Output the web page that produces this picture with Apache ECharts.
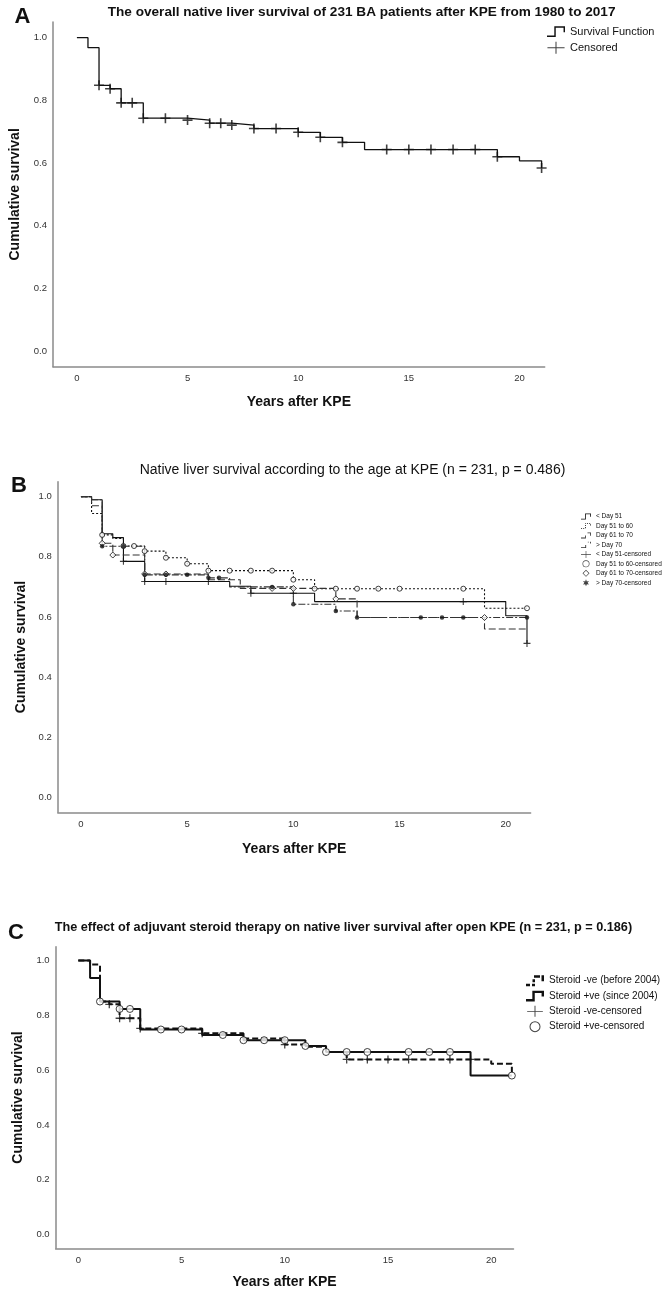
<!DOCTYPE html>
<html><head><meta charset="utf-8">
<script src="https://cdn.jsdelivr.net/npm/echarts@6/dist/echarts.min.js"></script>
<style>html,body{margin:0;padding:0;background:#fff}#c{width:671px;height:1299px}</style>
</head><body><div id="c"></div>
<script>
// ---------- shared tick labels ----------
const xTicks = [0, 5, 10, 15, 20];
const yTicks = [0, 0.2, 0.4, 0.6, 0.8, 1.0];

// ---------- Panel A ----------
const aSurvival = [[0,1],[0.5,0.968],[1,0.848],[1.5,0.837],[2,0.792],[3,0.743],[5,0.737],[6,0.727],[7,0.721],[8,0.71],[10,0.698],[11,0.682],[12,0.666],[13,0.643],[19,0.62],[20,0.607],[21,0.584]];
const aCensored = [[1,0.848],[1.5,0.837],[2,0.792],[2.5,0.792],[3,0.743],[4,0.743],[5,0.737],[6,0.727],[6.5,0.727],[7,0.721],[8,0.71],[9,0.71],[10,0.698],[11,0.682],[12,0.666],[14,0.643],[15,0.643],[16,0.643],[17,0.643],[18,0.643],[19,0.62],[21,0.584]];

// ---------- Panel B ----------
const bDay51 = [[0,1],[0.5,0.99],[1,0.877],[1.5,0.864],[2,0.785],[3,0.718],[7,0.702],[8,0.679],[11,0.651],[20,0.604],[21,0.512]];
const bDay51Cens = [[2,0.785],[3,0.718],[4,0.718],[6,0.718],[8,0.679],[10,0.679],[18,0.651],[21,0.512]];
const bDay51to60 = [[0,1],[0.5,0.944],[1,0.873],[1.5,0.861],[2,0.836],[3,0.819],[4,0.797],[5,0.777],[6,0.754],[10,0.724],[11,0.694],[19,0.629],[21,0.629]];
const bDay51to60Cens = [[1,0.873],[2,0.836],[2.5,0.836],[3,0.819],[4,0.797],[5,0.777],[6,0.754],[7,0.754],[8,0.754],[9,0.754],[10,0.724],[11,0.694],[12,0.694],[13,0.694],[14,0.694],[15,0.694],[18,0.694],[21,0.629]];
const bDay61to70 = [[0,1],[0.5,0.97],[1,0.845],[1.5,0.806],[3,0.743],[6,0.724],[7.5,0.695],[12,0.66],[13,0.598],[19,0.56],[21,0.56]];
const bDay61to70Cens = [[1,0.845],[1.5,0.806],[3,0.743],[4,0.743],[9,0.695],[10,0.695],[12,0.66],[19,0.598]];
const bOver70 = [[0,1],[0.5,0.99],[1,0.835],[3,0.74],[6,0.73],[7,0.70],[10,0.642],[12,0.62],[13,0.598],[21,0.598]];
const bOver70Cens = [[1,0.835],[2,0.835],[3,0.74],[4,0.74],[5,0.74],[6,0.73],[6.5,0.73],[9,0.70],[10,0.642],[12,0.62],[13,0.598],[16,0.598],[17,0.598],[18,0.598],[21,0.598]];

// ---------- Panel C ----------
const cNeg = [[0,1],[0.57,0.985],[1.05,0.85],[1.5,0.84],[2,0.789],[3,0.752],[6,0.734],[8,0.715],[10,0.693],[11,0.685],[12,0.666],[13,0.639],[20,0.623],[21,0.58]];
const cNegCens = [[1.5,0.84],[2,0.789],[2.5,0.789],[3,0.752],[6,0.734],[10,0.693],[13,0.639],[14,0.639],[15,0.639],[16,0.639],[18,0.639],[19,0.639]];
const cPos = [[0,1],[0.57,0.936],[1.05,0.85],[2,0.823],[3,0.748],[6,0.728],[8,0.709],[11,0.688],[12,0.666],[19,0.58],[21,0.58]];
const cPosCens = [[1.05,0.85],[2,0.823],[2.5,0.823],[4,0.748],[5,0.748],[7,0.728],[8,0.709],[9,0.709],[10,0.709],[11,0.688],[12,0.666],[13,0.666],[14,0.666],[16,0.666],[17,0.666],[18,0.666],[21,0.58]];

const FONT = '"Liberation Sans", Arial, sans-serif';
const PLUS = 'path://M0,4.2H10V5.8H0Z M4.2,0H5.8V10H4.2Z';
const PLUS_WIDE = 'path://M0,6.4H20V7.6H0Z M9.4,0H10.6V14H9.4Z';
const RING = 'path://M6,0A6,6 0 1 1 5.99,0Z M6,1.1A4.9,4.9 0 1 0 6.01,1.1Z';
const DIAMOND_RING = 'path://M5,0L10,5L5,10L0,5Z M5,1.3L1.3,5L5,8.7L8.7,5Z';
const STAR = 'path://M5,0L6.2,3L9.3,2.5L7.3,5L9.3,7.5L6.2,7L5,10L3.8,7L0.7,7.5L2.7,5L0.7,2.5L3.8,3Z';
const STEP = 'path://M0,10h9v1.5h-9z M7.5,0.5h1.5v11h-1.5z M7.5,0.5h11v1.5h-11z M17,0.5h1.5v6h-1.5z';
const STEP_DOT = 'path://M0,10h2v1.5h-2z M4,10h2v1.5h-2z M7.5,8h1.5v2h-1.5z M7.5,4h1.5v2h-1.5z M7.5,0.5h1.5v1.5h-1.5z M11,0.5h2v1.5h-2z M15,0.5h2v1.5h-2z M17,3h1.5v2h-1.5z';
const STEP_DASH = 'path://M0,10h9v1.5h-9z M7.5,6h1.5v5.5h-1.5z M12,0.5h6.5v1.5h-6.5z M17,0.5h1.5v6h-1.5z';
const STEP_DASHDOT = 'path://M0,10h9v1.5h-9z M7.5,6h1.5v5.5h-1.5z M12,0.5h1.5v1.5h-1.5z M16,0.5h1.5v3h-1.5z';
const STEP_THICKDASH = 'path://M0,9h4v2.5h-4z M6,9h3v2.5h-3z M6.5,4.5h2.5v3h-2.5z M8,0.5h6v2.5h-6z M15.5,0.5h2.5v6h-2.5z';
const STEP_THICK = 'path://M0,9h9v2.5h-9z M6.5,0.5h2.5v11h-2.5z M6.5,0.5h12v2.5h-12z M16,0.5h2.5v6h-2.5z';
const DARK = { color: '#111', borderWidth: 0 };

function xAx(i, min, max, gap) {
  return {
    gridIndex: i, type: 'value', min: min, max: max,
    axisLine: { onZero: false, lineStyle: { color: '#8a8a8a', width: 1.5 } },
    axisTick: { show: false }, splitLine: { show: false },
    axisLabel: { customValues: xTicks, fontSize: 9.5, color: '#333', margin: 7, fontFamily: FONT },
    name: 'Years after KPE', nameLocation: 'middle', nameGap: gap,
    nameTextStyle: { fontFamily: FONT, fontWeight: 'bold', fontSize: 14, color: '#111' }
  };
}
function yAx(i, gap) {
  return {
    gridIndex: i, type: 'value', min: -0.05, max: 1.05,
    axisLine: { show: true, onZero: false, lineStyle: { color: '#8a8a8a', width: 1.5 } },
    axisTick: { show: false }, splitLine: { show: false },
    axisLabel: { customValues: yTicks, formatter: v => v.toFixed(1), fontSize: 9.5, color: '#333', margin: 6, fontFamily: FONT },
    name: 'Cumulative survival', nameLocation: 'middle', nameGap: gap,
    nameTextStyle: { fontFamily: FONT, fontWeight: 'bold', fontSize: 14, color: '#111' }
  };
}
function stepLine(name, data, idx, width, type, color) {
  return { name: name, type: 'line', step: 'end', data: data, xAxisIndex: idx, yAxisIndex: idx,
    symbol: 'none', silent: true, animation: false,
    lineStyle: { color: color || '#111', width: width, type: type }, itemStyle: { color: color || '#111' } };
}
function cens(name, data, idx, symbol, size, fill, border) {
  return { name: name, type: 'scatter', data: data, xAxisIndex: idx, yAxisIndex: idx,
    symbol: symbol, symbolSize: size, silent: true, animation: false, z: 5,
    itemStyle: { color: fill, borderColor: border || fill, borderWidth: border ? 1 : 0 } };
}
function txt(text, x, y, font) {
  return { type: 'text', x: x, y: y, silent: true,
    style: { text: text, font: font, fill: '#111', align: 'center', verticalAlign: 'middle' } };
}

const chart = echarts.init(document.getElementById('c'), null, { renderer: 'canvas' });
chart.setOption({
  backgroundColor: '#fff',
  animation: false,
  grid: [
    { left: 52.6, top: 22, width: 492.1, height: 344.7 },
    { left: 57.8, top: 481.7, width: 472.8, height: 330.6 },
    { left: 55.6, top: 946.7, width: 457.9, height: 301.6 }
  ],
  xAxis: [xAx(0, -1.08, 21.14, 28), xAx(1, -1.09, 21.17, 30), xAx(2, -1.1, 21.08, 27)],
  yAxis: [yAx(0, 31), yAx(1, 30), yAx(2, 28)],
  graphic: [
    txt('The overall native liver survival of 231 BA patients after KPE from 1980 to 2017', 361.6, 12, 'bold 13.6px ' + FONT),
    txt('Native liver survival according to the age at KPE (n = 231, p = 0.486)', 352.5, 470.5, '14px ' + FONT),
    txt('The effect of adjuvant steroid therapy on native liver survival after open KPE (n = 231, p = 0.186)', 343.4, 927, 'bold 12.7px ' + FONT),
    txt('A', 22.4, 17, 'bold 22px ' + FONT),
    txt('B', 19, 485.5, 'bold 22px ' + FONT),
    txt('C', 16, 933, 'bold 22px ' + FONT)
  ],
  legend: [
    { orient: 'vertical', left: 542, top: 19.7, itemWidth: 18, itemHeight: 12, itemGap: 2,
      textStyle: { fontFamily: FONT, fontSize: 11, color: '#111', lineHeight: 14 },
      data: [{ name: 'Survival Function', icon: STEP }, { name: 'Censored', icon: PLUS_WIDE, itemStyle: DARK }] },
    { orient: 'vertical', left: 576, top: 507.5, itemWidth: 10, itemHeight: 7, itemGap: 1.47,
      textStyle: { fontFamily: FONT, fontSize: 6.5, color: '#111', lineHeight: 8 },
      data: [{ name: '< Day 51', icon: STEP }, { name: 'Day 51 to 60', icon: STEP_DOT },
             { name: 'Day 61 to 70', icon: STEP_DASH }, { name: '> Day 70', icon: STEP_DASHDOT },
             { name: '< Day 51-censored', icon: PLUS_WIDE, itemStyle: DARK },
             { name: 'Day 51 to 60-censored', icon: RING, itemStyle: DARK },
             { name: 'Day 61 to 70-censored', icon: DIAMOND_RING, itemStyle: DARK },
             { name: '> Day 70-censored', icon: STAR, itemStyle: DARK }] },
    { orient: 'vertical', left: 521, top: 969.2, itemWidth: 18, itemHeight: 11, itemGap: 2.33,
      textStyle: { fontFamily: FONT, fontSize: 10, color: '#111', lineHeight: 13 },
      data: [{ name: 'Steroid -ve (before 2004)', icon: STEP_THICKDASH }, { name: 'Steroid +ve (since 2004)', icon: STEP_THICK },
             { name: 'Steroid -ve-censored', icon: PLUS_WIDE, itemStyle: DARK },
             { name: 'Steroid +ve-censored', icon: RING, itemStyle: DARK }] }
  ],
  series: [
    stepLine('Survival Function', aSurvival, 0, 1.3, 'solid'),
    cens('Censored', aCensored, 0, PLUS, 10, '#111'),

    stepLine('< Day 51', bDay51, 1, 1.1, 'solid'),
    stepLine('Day 51 to 60', bDay51to60, 1, 1.1, [2, 2]),
    stepLine('Day 61 to 70', bDay61to70, 1, 1.1, [7, 3], '#333'),
    stepLine('> Day 70', bOver70, 1, 1.1, [7, 2, 2, 2], '#333'),
    cens('< Day 51-censored', bDay51Cens, 1, PLUS, 7, '#111'),
    cens('Day 51 to 60-censored', bDay51to60Cens, 1, 'circle', 5, '#fff', '#111'),
    cens('Day 61 to 70-censored', bDay61to70Cens, 1, 'diamond', 6, '#fff', '#111'),
    cens('> Day 70-censored', bOver70Cens, 1, 'circle', 4.5, '#111'),

    stepLine('Steroid -ve (before 2004)', cNeg, 2, 2, [6, 3]),
    stepLine('Steroid +ve (since 2004)', cPos, 2, 2, 'solid'),
    cens('Steroid -ve-censored', cNegCens, 2, PLUS, 8, '#111'),
    cens('Steroid +ve-censored', cPosCens, 2, 'circle', 7, '#fff', '#111')
  ]
});
</script>
</body></html>
